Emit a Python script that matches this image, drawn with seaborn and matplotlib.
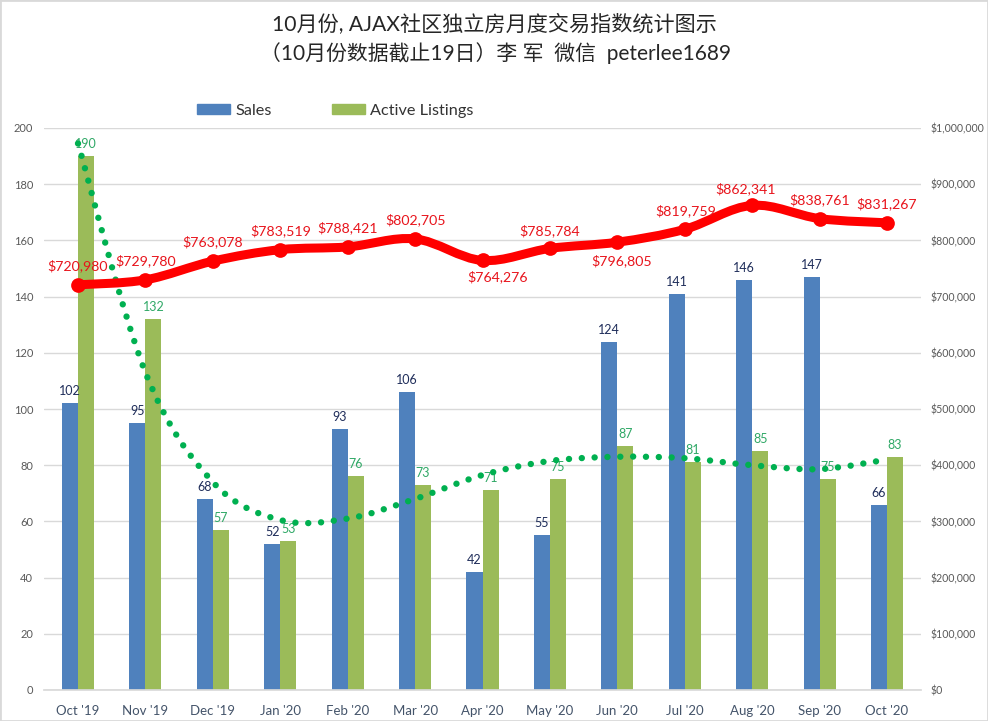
# -*- coding: utf-8 -*-
import matplotlib
matplotlib.use('Agg')
import matplotlib.pyplot as plt
from matplotlib.patches import PathPatch, Patch, Rectangle
from matplotlib.path import Path
from matplotlib.ticker import FuncFormatter
import pandas as pd
import seaborn as sns

# 数据
months = ["Oct '19", "Nov '19", "Dec '19", "Jan '20", "Feb '20", "Mar '20", "Apr '20",
          "May '20", "Jun '20", "Jul '20", "Aug '20", "Sep '20", "Oct '20"]
sales = [102, 95, 68, 52, 93, 106, 42, 55, 124, 141, 146, 147, 66]
listings = [190, 132, 57, 53, 76, 73, 71, 75, 87, 81, 85, 75, 83]
prices = [720980, 729780, 763078, 783519, 788421, 802705, 764276,
          785784, 796805, 819759, 862341, 838761, 831267]
# 绿色虚线
trend = [194.5, 113, 74, 60.5, 61, 68, 76.5, 81.5, 83, 82.5, 80, 78.6, 82]

# 红色标签偏移 (像素)
price_offsets = [(0, 19), (0, 19), (0, 19), (0, 19), (0, 19), (0, 19), (15, -16),
                 (0, 18), (4, -19), (1, 19), (-7, 17), (0, 19), (0, 19)]

BLUE = '#4f81bd'
GREEN = '#9bbb59'
RED = '#ff0000'
DOT = '#00b050'
GRID = '#d9d9d9'
TICK = '#595959'

sns.set_theme(style='white')
plt.rcParams['font.family'] = ['Lato', 'Noto Sans CJK SC', 'DejaVu Sans']


def smooth_path(values):
    # Excel 平滑线: 贝塞尔曲线
    verts = [(0, values[0])]
    codes = [Path.MOVETO]
    n = len(values)
    for i in range(n - 1):
        prev_v = values[max(i - 1, 0)]
        next_v = values[min(i + 2, n - 1)]
        prev_x = max(i - 1, 0)
        next_x = min(i + 2, n - 1)
        verts.append((i + (i + 1 - prev_x) / 6, values[i] + (values[i + 1] - prev_v) / 6))
        verts.append((i + 1 - (next_x - i) / 6, values[i + 1] - (next_v - values[i]) / 6))
        verts.append((i + 1, values[i + 1]))
        codes += [Path.CURVE4, Path.CURVE4, Path.CURVE4]
    return Path(verts, codes)


df = pd.DataFrame({'month': months * 2,
                   'value': sales + listings,
                   'series': ['Sales'] * 13 + ['Active Listings'] * 13})

fig = plt.figure(figsize=(9.88, 7.21), dpi=100)
ax = fig.add_axes([44.3 / 988, 1 - 690 / 721, (920.7 - 44.3) / 988, 562 / 721])

sns.barplot(data=df, x='month', y='value', hue='series', hue_order=['Sales', 'Active Listings'],
            palette=[BLUE, GREEN], width=0.475, gap=0, saturation=1, linewidth=0, legend=False, ax=ax)

ax.set_xlim(-0.5, 12.5)
ax.set_ylim(0, 200)
ax.set_yticks(range(0, 201, 20))
ax.set_xlabel('')
ax.set_ylabel('')
ax.grid(axis='y', color=GRID, lw=1)
ax.set_axisbelow(True)
ax.tick_params(axis='both', length=0)
ax.tick_params(axis='x', labelsize=9.5, labelcolor='#44546a', pad=11)
ax.tick_params(axis='y', labelsize=8, labelcolor=TICK, pad=8)
sns.despine(ax=ax, left=True, right=True, top=True)
ax.spines['bottom'].set_color(GRID)

# 柱子标签
for i in range(13):
    ax.annotate(str(sales[i]), (i - 0.119, sales[i]), xytext=(0, 12), textcoords='offset pixels',
                ha='center', va='center', fontsize=9, color='#1f2d5a')
    ax.annotate(str(listings[i]), (i + 0.119, listings[i]), xytext=(0, 12), textcoords='offset pixels',
                ha='center', va='center', fontsize=9, color='#2fa866')

# 绿色点线
ax.add_patch(PathPatch(smooth_path(trend), fill=False, edgecolor=DOT, lw=4.6, capstyle='round',
                       linestyle=(0, (0.01, 2.0)), zorder=5))

# 右轴 价格
ax2 = ax.twinx()
ax2.set_ylim(0, 1000000)
ax2.set_yticks(range(0, 1000001, 100000))
ax2.yaxis.set_major_formatter(FuncFormatter(lambda v, p: '${:,.0f}'.format(v)))
ax2.tick_params(axis='y', length=0, labelsize=7.6, labelcolor=TICK, pad=7)
ax2.grid(False)
sns.despine(ax=ax2, left=True, right=True, top=True, bottom=True)

ax2.add_patch(PathPatch(smooth_path(prices), fill=False, edgecolor=RED, lw=6.5, zorder=3))
sns.scatterplot(x=list(range(13)), y=prices, color=RED, s=112, linewidth=0, zorder=4, ax=ax2)

for i in range(13):
    ax2.annotate('${:,}'.format(prices[i]), (i, prices[i]), xytext=price_offsets[i], textcoords='offset pixels',
                 ha='center', va='center', fontsize=10.2, color='#e8141c', zorder=6)

# 标题
fig.text(494 / 988, 1 - 25 / 721, '10月份, AJAX社区独立房月度交易指数统计图示', ha='center', va='center',
         fontsize=15.2, color='#262626')
fig.text(496 / 988, 1 - 53 / 721, '（10月份数据截止19日）李 军  微信  peterlee1689', ha='center', va='center',
         fontsize=15, color='#262626')

# 图例
handles = [Patch(color=BLUE, label='Sales'), Patch(color=GREEN, label='Active Listings')]
fig.legend(handles=handles, loc='center left', bbox_to_anchor=(182 / 988, 1 - 111 / 721), ncol=2, frameon=False,
           fontsize=11.7, handlelength=2.03, handleheight=0.55, columnspacing=3.7, handletextpad=0.35,
           labelcolor='#333333')

# 外框
fig.add_artist(Rectangle((0, 0), 1, 1, transform=fig.transFigure, fill=False, edgecolor=GRID, lw=2))

fig.savefig('out.png', dpi=100)
